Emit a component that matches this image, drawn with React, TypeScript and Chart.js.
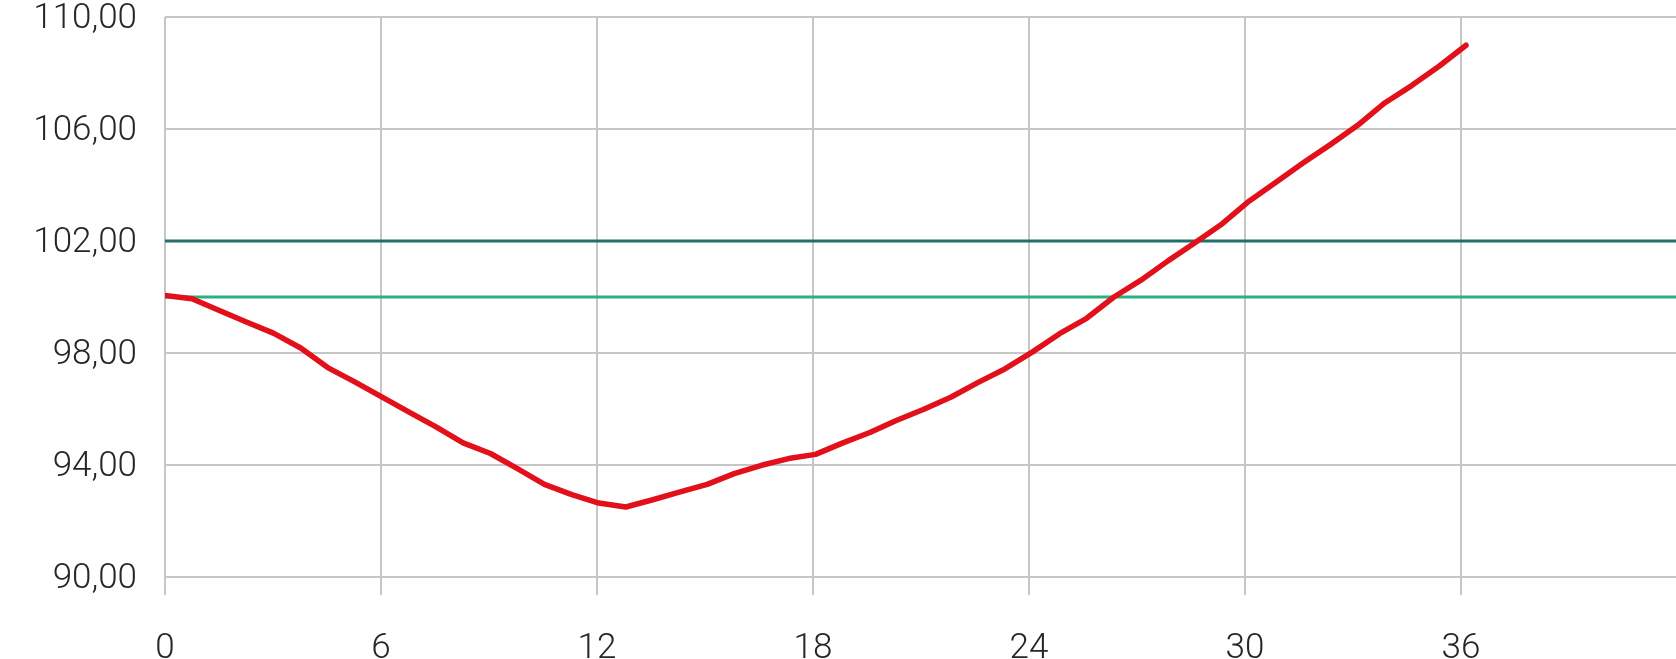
import React, { useEffect, useRef } from 'react';
import { Chart, registerables } from 'chart.js';

Chart.register(...registerables);

// Months since start (x) and index value (y) of the red series
const months = [
  0, 0.75, 1.51, 2.26, 3.01, 3.77, 4.52, 5.27, 6.02, 6.78,
  7.53, 8.28, 9.04, 9.79, 10.54, 11.3, 12.05, 12.8, 13.55, 14.31,
  15.06, 15.81, 16.57, 17.32, 18.07, 18.83, 19.58, 20.33, 21.08, 21.84,
  22.59, 23.34, 24.1, 24.85, 25.6, 26.36, 27.11, 27.86, 28.61, 29.37,
  30.12, 30.87, 31.63, 32.38, 33.13, 33.88, 34.64, 35.39, 36.14,
];
const values = [
  100.05, 99.94, 99.52, 99.11, 98.71, 98.18, 97.48, 96.97, 96.43, 95.89,
  95.36, 94.79, 94.41, 93.87, 93.31, 92.94, 92.64, 92.5, 92.76, 93.04,
  93.31, 93.69, 93.99, 94.23, 94.38, 94.79, 95.16, 95.6, 95.99, 96.43,
  96.95, 97.44, 98.04, 98.69, 99.24, 100.0, 100.6, 101.29, 101.94, 102.62,
  103.43, 104.11, 104.8, 105.45, 106.13, 106.93, 107.56, 108.24, 108.99,
];

// Horizontal reference levels
const upperLevel = 102;
const lowerLevel = 100;

// Axis ranges / ticks
const xMin = 0;
const xMax = 42;
const xStep = 6;
const yMin = 90;
const yMax = 110;
const yStep = 4;

export default function App() {
  const canvasRef = useRef<HTMLCanvasElement | null>(null);

  useEffect(() => {
    const canvas = canvasRef.current;
    if (!canvas) return;
    const font = { family: 'Roboto, "Liberation Sans", Arial, sans-serif', size: 35, weight: '300', lineHeight: 1 };
    const chart = new Chart(canvas, {
      type: 'line',
      data: {
        datasets: [
          {
            data: months.map((m, i) => ({ x: m, y: values[i] })),
            borderColor: '#e1101a',
            borderWidth: 5.5,
            borderCapStyle: 'round',
            borderJoinStyle: 'round',
            pointRadius: 0,
            tension: 0,
            fill: false,
          },
          {
            data: [
              { x: xMin, y: upperLevel },
              { x: xMax, y: upperLevel },
            ],
            borderColor: '#236e6a',
            borderWidth: 3,
            pointRadius: 0,
            fill: false,
          },
          {
            data: [
              { x: xMin, y: lowerLevel },
              { x: xMax, y: lowerLevel },
            ],
            borderColor: '#2bb07f',
            borderWidth: 3,
            pointRadius: 0,
            fill: false,
          },
        ],
      },
      options: {
        animation: false,
        responsive: false,
        maintainAspectRatio: false,
        layout: { padding: { left: 0, right: 0, top: 0, bottom: 0 } },
        plugins: { legend: { display: false }, tooltip: { enabled: false } },
        scales: {
          x: {
            type: 'linear',
            min: xMin,
            max: xMax,
            border: { display: false },
            grid: {
              color: '#c6c6c6',
              lineWidth: 2,
              drawTicks: true,
              tickLength: 18,
              tickColor: '#c6c6c6',
              tickWidth: 2,
            },
            ticks: {
              stepSize: xStep,
              color: '#262626',
              font,
              padding: 37,
              maxRotation: 0,
              autoSkip: false,
              callback: (v: any) => (Number(v) === xMax ? '' : String(v)),
            },
            afterFit: (scale: any) => {
              scale.height = 82;
              scale.paddingLeft = 0;
              scale.paddingRight = 0;
            },
          },
          y: {
            type: 'linear',
            min: yMin,
            max: yMax,
            border: { display: false },
            grid: {
              color: '#c6c6c6',
              lineWidth: 2,
              drawTicks: false,
            },
            ticks: {
              stepSize: yStep,
              color: '#262626',
              font,
              padding: 28,
              labelOffset: 2,
              callback: (v: any) => Number(v).toFixed(2).replace('.', ','),
            },
            afterFit: (scale: any) => {
              scale.width = 165;
              scale.paddingTop = 17;
              scale.paddingBottom = 0;
            },
          },
        },
      },
    });
    return () => chart.destroy();
  }, []);

  return (
    <div
      style={{
        position: 'fixed',
        left: 0,
        top: 0,
        width: 1676,
        height: 659,
        overflow: 'hidden',
        background: '#ffffff',
      }}
    >
      <canvas ref={canvasRef} width={1677} height={659} style={{ display: 'block' }} />
    </div>
  );
}
